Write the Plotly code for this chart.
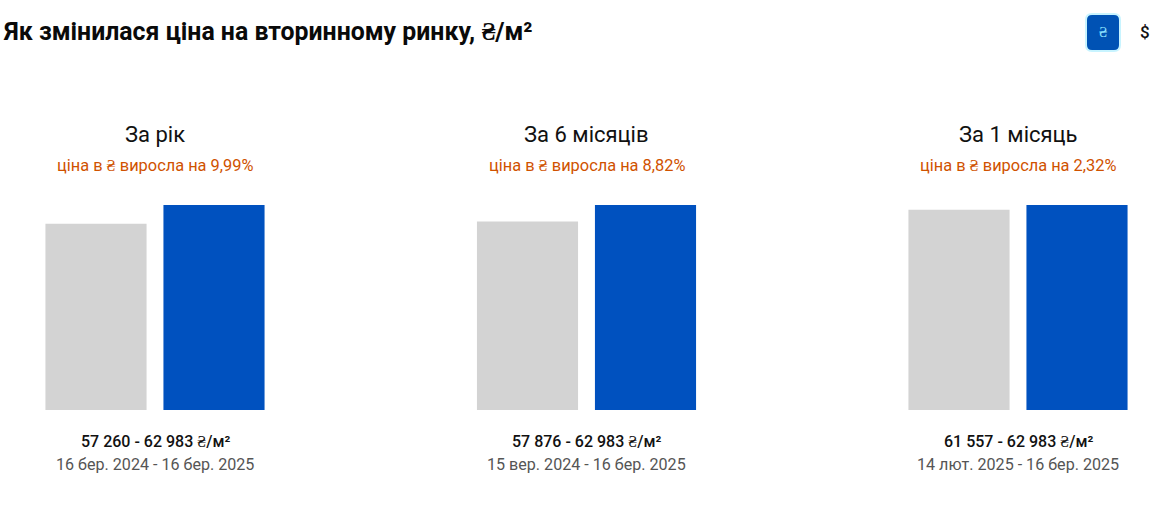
import plotly.graph_objects as go
from plotly.subplots import make_subplots

W, H = 1172, 527

periods = ["За рік", "За 6 місяців", "За 1 місяць"]
changes = ["ціна в ₴ виросла на 9,99%", "ціна в ₴ виросла на 8,82%", "ціна в ₴ виросла на 2,32%"]
price_start = [57260, 57876, 61557]
price_end = [62983, 62983, 62983]
price_labels = ["57 260 - 62 983 ₴/м²", "57 876 - 62 983 ₴/м²", "61 557 - 62 983 ₴/м²"]
date_labels = ["16 бер. 2024 - 16 бер. 2025", "15 вер. 2024 - 16 бер. 2025", "14 лют. 2025 - 16 бер. 2025"]
bar_names = ["start", "end"]

GREY = "#d3d3d3"
BLUE = "#0051bf"
ORANGE = "#d05200"
FONT = "Roboto"

fig = make_subplots(rows=1, cols=3)

# each panel is sized in pixels to sit where the page has it
panel_left = [37, 468.5, 900]
panel_width = 236
plot_top, plot_bottom = 205, 410

for i in range(3):
    fig.add_trace(go.Bar(
        x=bar_names,
        y=[price_start[i], price_end[i]],
        marker=dict(color=[GREY, BLUE], line_width=0),
        showlegend=False,
    ), row=1, col=i + 1)

    xname = "xaxis" if i == 0 else f"xaxis{i + 1}"
    yname = "yaxis" if i == 0 else f"yaxis{i + 1}"
    fig.update_layout({
        xname: dict(domain=[panel_left[i] / W, (panel_left[i] + panel_width) / W], visible=False),
        yname: dict(domain=[1 - plot_bottom / H, 1 - plot_top / H], range=[0, 62983], visible=False),
    })

    xref = "x domain" if i == 0 else f"x{i + 1} domain"
    texts = [
        (periods[i], 135, 22, "#111111", 400),
        (changes[i], 165, 16.4, ORANGE, 400),
        (price_labels[i], 441, 16, "#111111", 500),
        (date_labels[i], 464, 16.1, "#555555", 400),
    ]
    for text, y, size, color, weight in texts:
        fig.add_annotation(
            text=text, x=0.5, xref=xref, y=1 - y / H, yref="paper",
            xanchor="center", yanchor="middle", showarrow=False,
            font=dict(family=FONT, size=size, color=color, weight=weight),
        )

# heading
fig.add_annotation(
    text="Як змінилася ціна на вторинному ринку, ₴/м²",
    x=1 / W, xref="paper", y=1 - 32 / H, yref="paper",
    xanchor="left", yanchor="middle", showarrow=False,
    font=dict(family=FONT, size=24.85, color="#0a0a0a", weight=700),
)


def rounded_box(left, top, right, bottom, r):
    x0, x1, y0, y1 = left / W, right / W, 1 - bottom / H, 1 - top / H
    rx, ry = r / W, r / H
    return (
        f"M {x0 + rx} {y1} L {x1 - rx} {y1} Q {x1} {y1} {x1} {y1 - ry} "
        f"L {x1} {y0 + ry} Q {x1} {y0} {x1 - rx} {y0} L {x0 + rx} {y0} "
        f"Q {x0} {y0} {x0} {y0 + ry} L {x0} {y1 - ry} Q {x0} {y1} {x0 + rx} {y1} Z"
    )


# currency switch
fig.add_shape(
    type="path", path=rounded_box(1085, 13, 1121, 52, 7), xref="paper", yref="paper",
    fillcolor="#c8f4ff", line_width=0,
)
fig.add_shape(
    type="path", path=rounded_box(1087, 15, 1119, 50, 5), xref="paper", yref="paper",
    fillcolor="#0052b4", line_width=0,
)
fig.add_annotation(
    text="₴", x=1102.5 / W, xref="paper", y=1 - 32 / H, yref="paper",
    xanchor="center", yanchor="middle", showarrow=False,
    font=dict(family=FONT, size=15, color="#8fe4ff", weight=500),
)
fig.add_annotation(
    text="$", x=1144.5 / W, xref="paper", y=1 - 32 / H, yref="paper",
    xanchor="center", yanchor="middle", showarrow=False,
    font=dict(family=FONT, size=17, color="#111111", weight=500),
)

fig.update_layout(
    width=W, height=H,
    margin=dict(l=0, r=0, t=0, b=0),
    paper_bgcolor="white", plot_bgcolor="white",
    bargap=0.143,
    showlegend=False,
)

fig.write_html("out.html", config={"displayModeBar": False},
               post_script="document.body.style.margin='0';")
